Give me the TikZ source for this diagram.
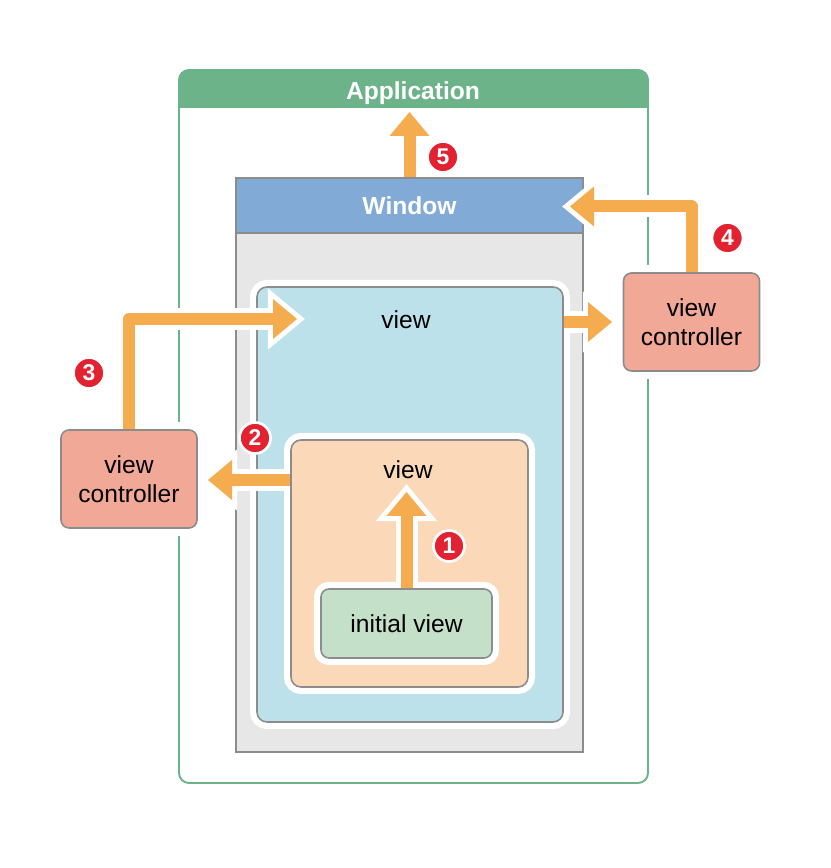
\documentclass[tikz,border=0pt]{standalone}
\usepackage{fontspec}
\setmainfont{Liberation Sans}
\usetikzlibrary{arrows.meta}

\definecolor{appgreen}{HTML}{6DB38A}
\definecolor{winblue}{HTML}{82AAD6}
\definecolor{wingray}{HTML}{E6E7E6}
\definecolor{framegray}{HTML}{8C8C8C}
\definecolor{viewblue}{HTML}{BCE1EB}
\definecolor{viewpeach}{HTML}{FAD8B8}
\definecolor{initgreen}{HTML}{C4E0C9}
\definecolor{ctrlred}{HTML}{F1A897}
\definecolor{floworange}{HTML}{F5AC4E}
\definecolor{badgered}{HTML}{E32231}

\begin{document}
\begin{tikzpicture}[
  font=\fontsize{14}{16.5}\selectfont,
  frame/.style   = {draw=framegray, line width=0.9pt},
  halo/.style    = {preaction={draw=white, line width=#1}},
  viewbox/.style = {frame, rounded corners=0.2cm, halo=0.28cm, inner sep=0pt},
  ctrl/.style    = {frame, fill=ctrlred, rounded corners=0.16cm, align=center,
                    minimum width=2.72cm, minimum height=1.96cm, halo=0.32cm},
  flow/.style    = {draw=floworange, line width=0.24cm, line join=round,
                    -{Triangle[width=0.8cm, length=0.48cm, line width=0pt]}},
  flowhalo/.style = {preaction={draw=white, line width=0.44cm, line join=round,
                    -{Triangle[width=1.23cm, length=0.74cm, line width=0pt]},
                    shorten >=-0.156cm, shorten <=1.5pt}},
  badge/.style   = {circle, fill=badgered, draw=white, line width=1.5pt,
                    minimum size=0.62cm, inner sep=0pt, text=white,
                    font=\fontsize{13}{13}\selectfont\bfseries},
  title/.style   = {text=white, font=\fontsize{14}{17}\selectfont\bfseries}
]
  \useasboundingbox (0,0) rectangle (16.6,17.36);

  % Aplicacao
  \node[draw=appgreen, line width=1.1pt, rounded corners=0.2cm,
        minimum width=9.38cm, minimum height=14.26cm] (app) at (8.27,8.83) {};
  \fill[appgreen, rounded corners=0.2cm] (3.58,15.20) rectangle (12.96,15.96);
  \fill[appgreen] (3.58,15.20) rectangle (12.96,15.60);
  \node[title] (apptitle) at (8.26,15.50) {Application};

  % Janela
  \node[frame, fill=wingray, minimum width=6.94cm, minimum height=11.48cm] (win) at (8.19,8.06) {};
  \node[frame, fill=winblue, title, minimum width=6.94cm, minimum height=1.10cm] (winhead) at (8.19,13.25) {Window};

  % Views
  \node[viewbox, fill=viewblue, minimum width=6.12cm, minimum height=8.70cm] (outerv) at (8.20,7.27) {};
  \node (outerlbl) at (8.12,10.96) {view};
  \node[viewbox, fill=viewpeach, minimum width=4.74cm, minimum height=4.94cm] (innerv) at (8.19,6.09) {};
  \node (innerlbl) at (8.16,7.96) {view};
  \node[viewbox, fill=initgreen, rounded corners=0.16cm,
        minimum width=3.42cm, minimum height=1.38cm] (initv) at (8.13,4.89) {initial view};

  % View controllers
  \node[ctrl] (ctrlL) at (2.58,7.78)  {view\\controller};
  \node[ctrl] (ctrlR) at (13.83,10.92) {view\\controller};

  % Pontas das setas
  \coordinate (tip1) at (8.13,7.52);
  \coordinate (tip2) at (4.16,7.76);
  \coordinate (tip3) at (5.94,10.98);
  \coordinate (tipR) at (12.24,10.92);
  \coordinate (tip4) at (11.40,13.23);
  \coordinate (tip5) at (8.19,15.12);

  % Setas
  \draw[flow, flowhalo] (initv.north) -- (tip1);
  \draw[flow, flowhalo] (innerv.west |- tip2) -- (tip2);
  \draw[flow, flowhalo] (ctrlL.north) |- (tip3);
  \draw[flow, flowhalo] (outerv.east |- tipR) -- (tipR);
  \draw[flow, flowhalo] (ctrlR.north) |- (tip4);
  \draw[flow] (winhead.north) -- (tip5);

  % Numeros
  \node[badge] (b1) at (8.98,6.44)  {1};
  \node[badge] (b2) at (5.10,8.60)  {2};
  \node[badge] (b3) at (1.78,9.90)  {3};
  \node[badge] (b4) at (14.55,12.60) {4};
  \node[badge] (b5) at (8.86,14.22) {5};
\end{tikzpicture}
\end{document}
